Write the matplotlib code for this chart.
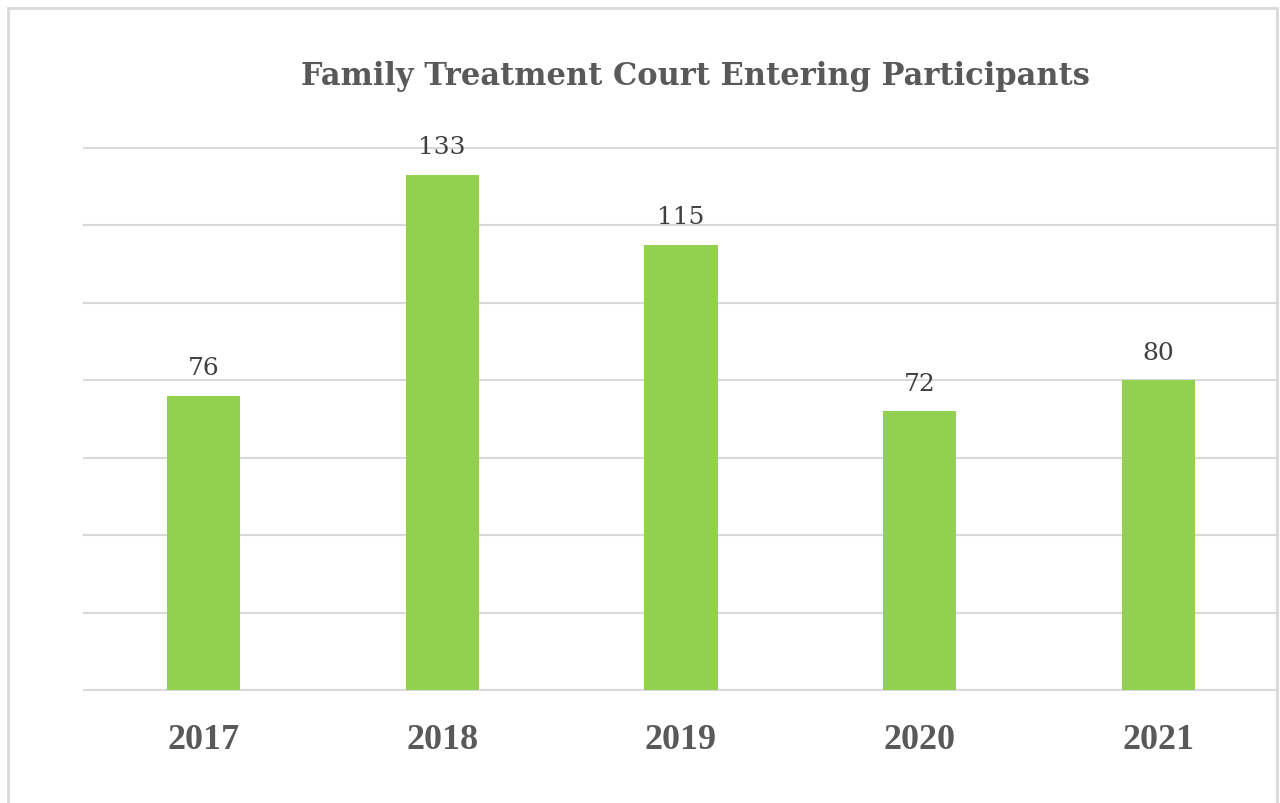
import matplotlib.pyplot as plt
from matplotlib.patches import Rectangle

years = ["2017", "2018", "2019", "2020", "2021"]
participants = [76, 133, 115, 72, 80]

fig = plt.figure(figsize=(12.8, 8.04), dpi=100)
ax = fig.add_axes([84 / 1280, 113 / 804, 1194 / 1280, 542 / 804])

# outer chart border (the bottom edge runs off the image)
fig.patches.append(Rectangle((8 / 1280, -0.05), 1269 / 1280, (795 / 804) + 0.05,
                             transform=fig.transFigure, fill=False,
                             edgecolor="#d9d9d9", linewidth=2))

x = range(len(years))
bars = ax.bar(x, participants, width=0.306, color="#92d050", zorder=3)

for rect, v in zip(bars, participants):
    ax.annotate(str(v), (rect.get_x() + rect.get_width() / 2, v),
                xytext=(0, 12), textcoords="offset points",
                ha="center", va="bottom", fontsize=18, color="#404040",
                family="DejaVu Serif")

ax.set_xlim(-0.5, len(years) - 0.5)
ax.set_ylim(0, 140)
ax.set_yticks(range(0, 141, 20))
ax.set_yticklabels([])
ax.tick_params(axis="y", length=0)
ax.yaxis.grid(True, color="#d9d9d9", linewidth=1.5, zorder=0)
ax.set_axisbelow(True)
for gl in ax.get_ygridlines():
    gl.set_clip_on(False)

ax.set_xticks(list(x))
ax.set_xticklabels(years, fontsize=26, fontweight="bold", color="#595959",
                   family="Liberation Serif")
ax.tick_params(axis="x", length=0, pad=24)

for s in ax.spines.values():
    s.set_visible(False)

fig.text(695 / 1280, 1 - 77 / 804, "Family Treatment Court Entering Participants",
         ha="center", va="center", fontsize=22, fontweight="bold",
         color="#595959", family="DejaVu Serif")

fig.savefig("out.png", dpi=100)
